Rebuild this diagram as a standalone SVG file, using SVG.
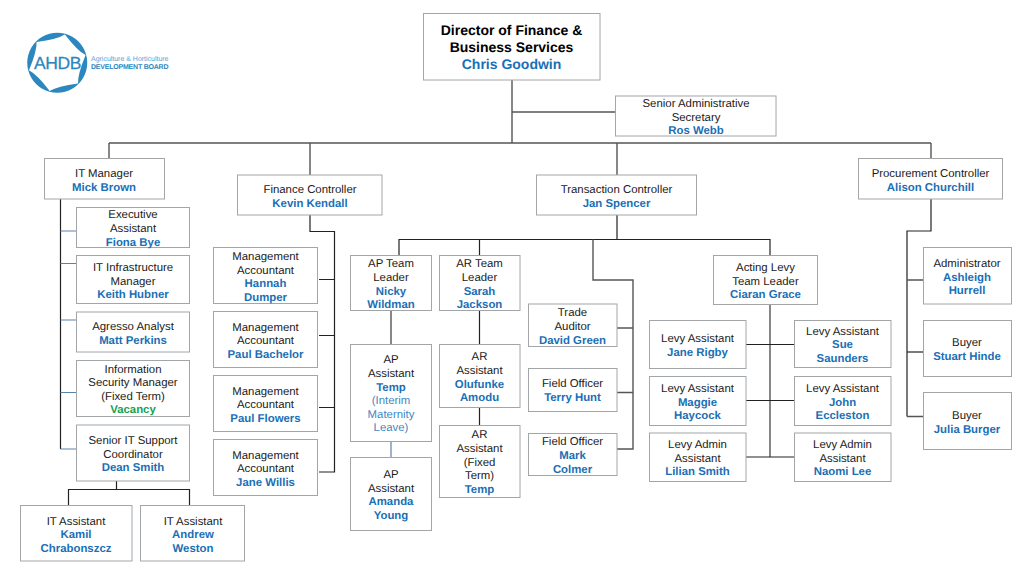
<svg xmlns="http://www.w3.org/2000/svg" width="1024" height="576" viewBox="0 0 1024 576">
<style>
text{font-family:"Liberation Sans",Arial,sans-serif;font-size:11.4px;text-anchor:middle;fill:#1a1a1a;text-rendering:geometricPrecision}
.n{font-weight:bold;fill:#1b6fb5}
.g{font-weight:bold;fill:#16a34f}
.l{fill:#3f87c4}
.d{font-size:14px;font-weight:bold;fill:#000}
.dn{font-size:14px;font-weight:bold;fill:#1b6fb5}
rect{fill:#fff;stroke:#a3a6a8;stroke-width:1}
#connectors path{fill:none;stroke:#222;stroke-width:1.2}
#connectors .b{stroke:#5b82ad}
#connectors .m{stroke:#555;stroke-width:1.4}
</style>
<g id="logo">
<path fill="#2b87bd" fill-rule="evenodd" d="M57.300 32.700A30 30 0 1 1 57.200 32.700ZM64.900 34.400Q77.650 50.950 85.600 55.100Q77.650 74.450 78 83.400Q57.300 86.200 49.700 91Q36.950 74.450 29 70.300Q36.950 50.950 36.600 42Q57.300 39.200 64.900 34.400Z"/>
<text x="34" y="69" textLength="47.500" style="font-size:17.500px;text-anchor:start;fill:#2b87bd;stroke:#2b87bd;stroke-width:.25">AHDB</text>
<text x="91" y="60.700" textLength="77.500" style="font-size:7px;text-anchor:start;fill:#5aa2cf">Agriculture &amp; Horticulture</text>
<text x="91" y="68.700" textLength="77.500" style="font-size:7px;font-weight:bold;text-anchor:start;fill:#2b87bd">DEVELOPMENT BOARD</text>
</g>
<g id="connectors">
<path class="m" d="M512 80V143M512 112H615M109 143H931M109 143V158M310 143V175M617 143V175M931 143V158"/>
<path d="M60.500 199V449"/>
<path class="b" d="M60.500 231H76M60.500 263.500H76M60.500 320H76M60.500 392.500H76M60.500 449H76"/>
<path d="M116.500 481V489.500M68.500 505V489.500H189.500V505"/>
<path d="M310 215V231.500H334.500V472H319M319 279.500H334.500M319 335.500H334.500M319 407.500H334.500"/>
<path d="M617 215V239.500M399 255V239.500H770V255M479.500 239.500V255"/>
<path class="m" d="M593 239.500V280H633V449H617M617 328H633M617 392.500H633"/>
<path class="m" d="M391 310V344"/>
<path class="b" d="M391 441V457"/>
<path d="M479.500 310V344M479.500 407V425"/>
<path class="m" d="M770 304V457"/>
<path d="M746 344.500H794M746 400.500H794M746 457H794"/>
<path d="M931 199V231H907V416.500"/>
<path class="m" d="M907 280H923M907 416.500H923"/>
<path d="M907 352H923"/>
</g>
<g id="director"><rect x="423.500" y="13.500" width="176.500" height="66.500"/><text x="511.500" y="35" class="d">Director of Finance &amp;</text><text x="511.500" y="52" class="d">Business Services</text><text x="511.500" y="69" class="dn">Chris Goodwin</text></g>
<g id="secretary"><rect x="615.500" y="96" width="160.500" height="40"/><text x="696" y="107">Senior Administrative</text><text x="696" y="120.500">Secretary</text><text x="696" y="134" class="n">Ros Webb</text></g>
<g id="it-manager"><rect x="44.500" y="158.500" width="120" height="40.500"/><text x="104" y="177">IT Manager</text><text x="104" y="190.500" class="n">Mick Brown</text></g>
<g id="finance-controller"><rect x="237.500" y="175" width="144.500" height="40"/><text x="310" y="193">Finance Controller</text><text x="310" y="206.500" class="n">Kevin Kendall</text></g>
<g id="transaction-controller"><rect x="536.500" y="175" width="160" height="40"/><text x="616.500" y="193">Transaction Controller</text><text x="616.500" y="206.500" class="n">Jan Spencer</text></g>
<g id="procurement-controller"><rect x="858.500" y="158.500" width="144" height="40.500"/><text x="930.500" y="177">Procurement Controller</text><text x="930.500" y="190.500" class="n">Alison Churchill</text></g>
<g id="exec-assistant"><rect x="76.500" y="207.500" width="113" height="40"/><text x="133" y="218">Executive</text><text x="133" y="232">Assistant</text><text x="133" y="245.500" class="n">Fiona Bye</text></g>
<g id="it-infrastructure"><rect x="76.500" y="255.500" width="113" height="48"/><text x="133" y="271">IT Infrastructure</text><text x="133" y="284.500">Manager</text><text x="133" y="298" class="n">Keith Hubner</text></g>
<g id="agresso"><rect x="76.500" y="312" width="113" height="40"/><text x="133" y="330">Agresso Analyst</text><text x="133" y="343.500" class="n">Matt Perkins</text></g>
<g id="info-security"><rect x="76.500" y="360.500" width="113" height="56"/><text x="133" y="372.500">Information</text><text x="133" y="386">Security Manager</text><text x="133" y="399.500">(Fixed Term)</text><text x="133" y="413" class="g">Vacancy</text></g>
<g id="senior-it"><rect x="76.500" y="425" width="113" height="56"/><text x="133" y="444">Senior IT Support</text><text x="133" y="457.500">Coordinator</text><text x="133" y="471" class="n">Dean Smith</text></g>
<g id="it-kamil"><rect x="20.500" y="505.500" width="111.500" height="55.500"/><text x="76" y="524.500">IT Assistant</text><text x="76" y="538" class="n">Kamil</text><text x="76" y="552" class="n">Chrabonszcz</text></g>
<g id="it-andrew"><rect x="140.500" y="505.500" width="104" height="55.500"/><text x="193" y="524.500">IT Assistant</text><text x="193" y="538" class="n">Andrew</text><text x="193" y="552" class="n">Weston</text></g>
<g id="ma-hannah"><rect x="213.500" y="247.500" width="104" height="56"/><text x="265.500" y="260">Management</text><text x="265.500" y="273.500">Accountant</text><text x="265.500" y="287" class="n">Hannah</text><text x="265.500" y="300.500" class="n">Dumper</text></g>
<g id="ma-paul-b"><rect x="213.500" y="311.500" width="104" height="56"/><text x="265.500" y="330.500">Management</text><text x="265.500" y="344">Accountant</text><text x="265.500" y="357.500" class="n">Paul Bachelor</text></g>
<g id="ma-paul-f"><rect x="213.500" y="375.500" width="104" height="56"/><text x="265.500" y="394.500">Management</text><text x="265.500" y="408">Accountant</text><text x="265.500" y="421.500" class="n">Paul Flowers</text></g>
<g id="ma-jane"><rect x="213.500" y="439.500" width="104" height="56"/><text x="265.500" y="458.500">Management</text><text x="265.500" y="472">Accountant</text><text x="265.500" y="485.500" class="n">Jane Willis</text></g>
<g id="ap-leader"><rect x="350.500" y="255.500" width="81" height="55"/><text x="391" y="267">AP Team</text><text x="391" y="281">Leader</text><text x="391" y="294.500" class="n">Nicky</text><text x="391" y="308" class="n">Wildman</text></g>
<g id="ar-leader"><rect x="439.500" y="255.500" width="80.500" height="55"/><text x="479.500" y="267">AR Team</text><text x="479.500" y="281">Leader</text><text x="479.500" y="294.500" class="n">Sarah</text><text x="479.500" y="308" class="n">Jackson</text></g>
<g id="ap-temp"><rect x="350.500" y="344.500" width="81" height="97"/><text x="391" y="363">AP</text><text x="391" y="377">Assistant</text><text x="391" y="390.500" class="n">Temp</text><text x="391" y="404" class="l">(Interim</text><text x="391" y="417.500" class="l">Maternity</text><text x="391" y="431" class="l">Leave)</text></g>
<g id="ap-amanda"><rect x="350.500" y="457.500" width="81" height="73"/><text x="391" y="478">AP</text><text x="391" y="491.500">Assistant</text><text x="391" y="505" class="n">Amanda</text><text x="391" y="519" class="n">Young</text></g>
<g id="ar-olufunke"><rect x="439.500" y="344.500" width="80.500" height="63"/><text x="479.500" y="360">AR</text><text x="479.500" y="374">Assistant</text><text x="479.500" y="387.500" class="n">Olufunke</text><text x="479.500" y="401" class="n">Amodu</text></g>
<g id="ar-temp"><rect x="439.500" y="425.500" width="80.500" height="72"/><text x="479.500" y="438">AR</text><text x="479.500" y="452">Assistant</text><text x="479.500" y="465.500">(Fixed</text><text x="479.500" y="479">Term)</text><text x="479.500" y="493" class="n">Temp</text></g>
<g id="trade-auditor"><rect x="528.500" y="304" width="88.500" height="42.500"/><text x="572.500" y="316">Trade</text><text x="572.500" y="330">Auditor</text><text x="572.500" y="343.500" class="n">David Green</text></g>
<g id="field-terry"><rect x="528.500" y="368.500" width="88.500" height="43"/><text x="572.500" y="387">Field Officer</text><text x="572.500" y="401" class="n">Terry Hunt</text></g>
<g id="field-mark"><rect x="528.500" y="433.500" width="88.500" height="42"/><text x="572.500" y="445">Field Officer</text><text x="572.500" y="459" class="n">Mark</text><text x="572.500" y="472.500" class="n">Colmer</text></g>
<g id="levy-leader"><rect x="713.500" y="255.500" width="104" height="49"/><text x="765.500" y="271">Acting Levy</text><text x="765.500" y="284.500">Team Leader</text><text x="765.500" y="298" class="n">Ciaran Grace</text></g>
<g id="levy-jane"><rect x="649.500" y="320.500" width="96.500" height="48"/><text x="697.500" y="342">Levy Assistant</text><text x="697.500" y="355.500" class="n">Jane Rigby</text></g>
<g id="levy-maggie"><rect x="649.500" y="376.500" width="96.500" height="49"/><text x="697.500" y="392">Levy Assistant</text><text x="697.500" y="405.500" class="n">Maggie</text><text x="697.500" y="419" class="n">Haycock</text></g>
<g id="levy-lilian"><rect x="649.500" y="433" width="96.500" height="48.500"/><text x="697.500" y="448">Levy Admin</text><text x="697.500" y="461.500">Assistant</text><text x="697.500" y="475" class="n">Lilian Smith</text></g>
<g id="levy-sue"><rect x="794.500" y="320.500" width="96.500" height="47"/><text x="842.500" y="334.500">Levy Assistant</text><text x="842.500" y="348" class="n">Sue</text><text x="842.500" y="361.500" class="n">Saunders</text></g>
<g id="levy-john"><rect x="794.500" y="376.500" width="96.500" height="49"/><text x="842.500" y="392">Levy Assistant</text><text x="842.500" y="405.500" class="n">John</text><text x="842.500" y="419" class="n">Eccleston</text></g>
<g id="levy-naomi"><rect x="794.500" y="433" width="96.500" height="48.500"/><text x="842.500" y="448">Levy Admin</text><text x="842.500" y="461.500">Assistant</text><text x="842.500" y="475" class="n">Naomi Lee</text></g>
<g id="administrator"><rect x="923.500" y="247.500" width="88" height="56.500"/><text x="967" y="267">Administrator</text><text x="967" y="280.500" class="n">Ashleigh</text><text x="967" y="294" class="n">Hurrell</text></g>
<g id="buyer-stuart"><rect x="923.500" y="320.500" width="88" height="56"/><text x="967" y="346">Buyer</text><text x="967" y="359.500" class="n">Stuart Hinde</text></g>
<g id="buyer-julia"><rect x="923.500" y="392.500" width="88" height="57"/><text x="967" y="419">Buyer</text><text x="967" y="432.500" class="n">Julia Burger</text></g>
</svg>
